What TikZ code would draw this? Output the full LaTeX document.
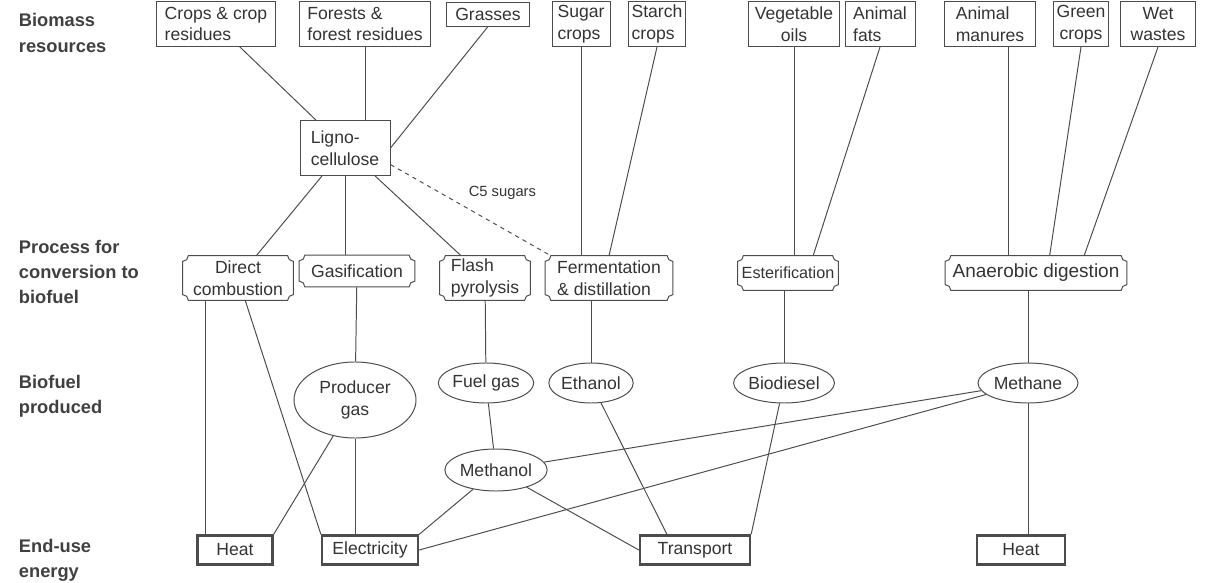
\documentclass[tikz,border=0pt]{standalone}
\usepackage{fontspec}
\setmainfont{Liberation Sans}
\usetikzlibrary{shapes.geometric}
\usetikzlibrary{calc}

% process box with notched (concave) corners
\newcommand{\notchbox}[1]{%
  \draw[conn] ($(#1.north west)+(4pt,0pt)$) -- ($(#1.north east)+(-4pt,0pt)$)
    arc[start angle=180, end angle=270, radius=4pt]
    -- ($(#1.south east)+(0pt,4pt)$)
    arc[start angle=90, end angle=180, radius=4pt]
    -- ($(#1.south west)+(4pt,0pt)$)
    arc[start angle=0, end angle=90, radius=4pt]
    -- ($(#1.north west)+(0pt,-4pt)$)
    arc[start angle=270, end angle=360, radius=4pt] -- cycle;}

\begin{document}
\begin{tikzpicture}[x=0.025cm, y=-0.025cm,
    font=\fontsize{12.5}{15.5}\selectfont,
    every node/.style={text=black!80},
    conn/.style={draw=black!70, line width=0.7pt},
    resource/.style={draw=black!70, line width=0.7pt, inner sep=2pt, align=left},
    process/.style={inner sep=2pt, align=center},
    biofuel/.style={ellipse, draw=black!70, line width=0.7pt, inner sep=0pt, align=center},
    enduse/.style={draw=black!70, line width=1.6pt, inner sep=2pt},
    head/.style={anchor=west, align=left, text=black!75, font=\fontsize{13}{18}\selectfont\bfseries}]
  \useasboundingbox (0,0) rectangle (1208,583);

  % row headings
  \node[head] (hbiomass) at (14,33)  {Biomass\\resources};
  \node[head] (hprocess) at (14,272) {Process for\\conversion to\\biofuel};
  \node[head] (hbiofuel) at (14,396) {Biofuel\\produced};
  \node[head] (henduse)  at (14,560) {End-use\\energy};

  % biomass resources
  \node[resource, minimum width=2.95cm,  minimum height=1.125cm] (crops)      at (216,24)    {Crops \& crop\\residues};
  \node[resource, minimum width=3.25cm,  minimum height=1.125cm] (forests)    at (365,24)    {Forests \&\\forest residues};
  \node[resource, minimum width=2.075cm, minimum height=0.6cm]   (grasses)    at (488,14)    {Grasses};
  \node[resource, minimum width=1.45cm,  minimum height=1.125cm] (sugar)      at (581,24)    {Sugar\\crops};
  \node[resource, minimum width=1.3cm,   minimum height=1.125cm] (starch)     at (657,24)    {Starch\\crops};
  \node[resource, minimum width=2.275cm, minimum height=1.125cm, align=center] (vegoils) at (794,24) {Vegetable\\oils};
  \node[resource, minimum width=1.75cm,  minimum height=1.125cm] (animfats)   at (880,24)    {Animal\\fats};
  \node[resource, minimum width=2.275cm, minimum height=1.125cm] (manures)    at (990,24)    {Animal\\manures};
  \node[resource, minimum width=1.2cm,   minimum height=1.125cm, align=center] (greencrops) at (1081,24) {Green\\crops};
  \node[resource, minimum width=1.875cm, minimum height=1.125cm, align=center] (wetwastes)  at (1158,24) {Wet\\wastes};
  \node[resource, minimum width=2.25cm,  minimum height=1.375cm] (ligno)      at (345,148)   {Ligno-\\cellulose};

  % conversion processes
  \node[process, minimum width=2.75cm,  minimum height=1.1cm]   (direct)  at (238,278)   {Direct\\combustion};
  \node[process, minimum width=2.875cm, minimum height=0.775cm] (gasif)   at (357,271)   {Gasification};
  \node[process, minimum width=2.25cm,  minimum height=1.1cm, align=left] (flash)   at (485,278) {Flash\\pyrolysis};
  \node[process, minimum width=3.175cm, minimum height=1.1cm, align=left] (ferment) at (609,278) {Fermentation\\\& distillation};
  \node[process, minimum width=2.5cm,   minimum height=0.85cm, font=\fontsize{11.5}{14}\selectfont] (ester) at (788,273) {Esterification};
  \node[process, minimum width=4.525cm, minimum height=0.85cm, font=\fontsize{13.5}{16}\selectfont] (anaer) at (1036,273) {Anaerobic digestion};
  \foreach \n in {direct,gasif,flash,ferment,ester,anaer}
    \notchbox{\n};

  % biofuels
  \node[biofuel, minimum width=3.05cm,  minimum height=1.9cm]  (prodgas)   at (355,400)  {Producer\\gas};
  \node[biofuel, minimum width=2.375cm, minimum height=1.0cm]  (fuelgas)   at (486,383)  {Fuel gas};
  \node[biofuel, minimum width=1.95cm,  minimum height=1.0cm]  (ethanol)   at (591,383)  {Ethanol};
  \node[biofuel, minimum width=2.2cm,   minimum height=1.0cm]  (biodiesel) at (784,383)  {Biodiesel};
  \node[biofuel, minimum width=2.5cm,   minimum height=1.0cm]  (methane)   at (1028,383) {Methane};
  \node[biofuel, minimum width=2.4cm,   minimum height=1.05cm] (methanol)  at (496,470)  {Methanol};

  % end-use energy
  \node[enduse, minimum width=1.875cm, minimum height=0.725cm] (heatA)     at (235,550)  {Heat};
  \node[enduse, minimum width=2.4cm,   minimum height=0.725cm] (elec)      at (370,550)  {Electricity};
  \node[enduse, minimum width=2.75cm,  minimum height=0.725cm] (transport) at (695,550)  {Transport};
  \node[enduse, minimum width=2.2cm,   minimum height=0.725cm] (heatB)     at (1021,550) {Heat};

  \path[conn]
    (crops)          edge (ligno)
    (forests.south)  edge (forests.south |- ligno.north)
    (grasses.south)  edge (ligno.east)
    (sugar.south)    edge (sugar.south |- ferment.north)
    (starch.south)   edge (ferment.north)
    (vegoils.south)  edge (vegoils.south |- ester.north)
    (animfats.south) edge ($(ester.north)!0.5!(ester.north east)$)
    ([xshift=0.45cm]manures.south) edge ([xshift=0.45cm]manures.south |- anaer.north)
    (greencrops.south) edge ($(anaer.north)!0.15!(anaer.north east)$)
    (wetwastes.south)  edge ($(anaer.north)!0.53!(anaer.north east)$)
    (ligno)          edge (direct)
    (ligno.south)    edge (ligno.south |- gasif.north)
    (ligno)          edge (flash)
    ([xshift=-0.825cm]direct.south) edge ([xshift=-0.825cm]direct.south |- heatA.north)
    (direct)         edge (elec.north west)
    (gasif)          edge (prodgas)
    (flash)          edge (fuelgas)
    (ethanol.north)  edge (ethanol.north |- ferment.south)
    (biodiesel.north) edge (biodiesel.north |- ester.south)
    (methane.north)  edge (methane.north |- anaer.south)
    (prodgas)        edge (heatA.north east)
    (prodgas.south)  edge (prodgas.south |- elec.north)
    (fuelgas)        edge (methanol)
    (methanol)       edge (elec.north east)
    (methanol)       edge (transport.west)
    (ethanol)        edge ($(transport.north west)!0.25!(transport.north east)$)
    (biodiesel)      edge (transport.north east)
    (methane)        edge (methanol)
    (methane)        edge (elec.east)
    (methane.south)  edge (methane.south |- heatB.north);
  \draw[conn, dashed] (ligno.-20) -- node[pos=0.45, anchor=south west, fill=white, inner sep=1pt,
      xshift=3pt, yshift=3pt, font=\fontsize{10.5}{12}\selectfont] (c5) {C5 sugars} ([xshift=4pt]ferment.north west);
\end{tikzpicture}
\end{document}
